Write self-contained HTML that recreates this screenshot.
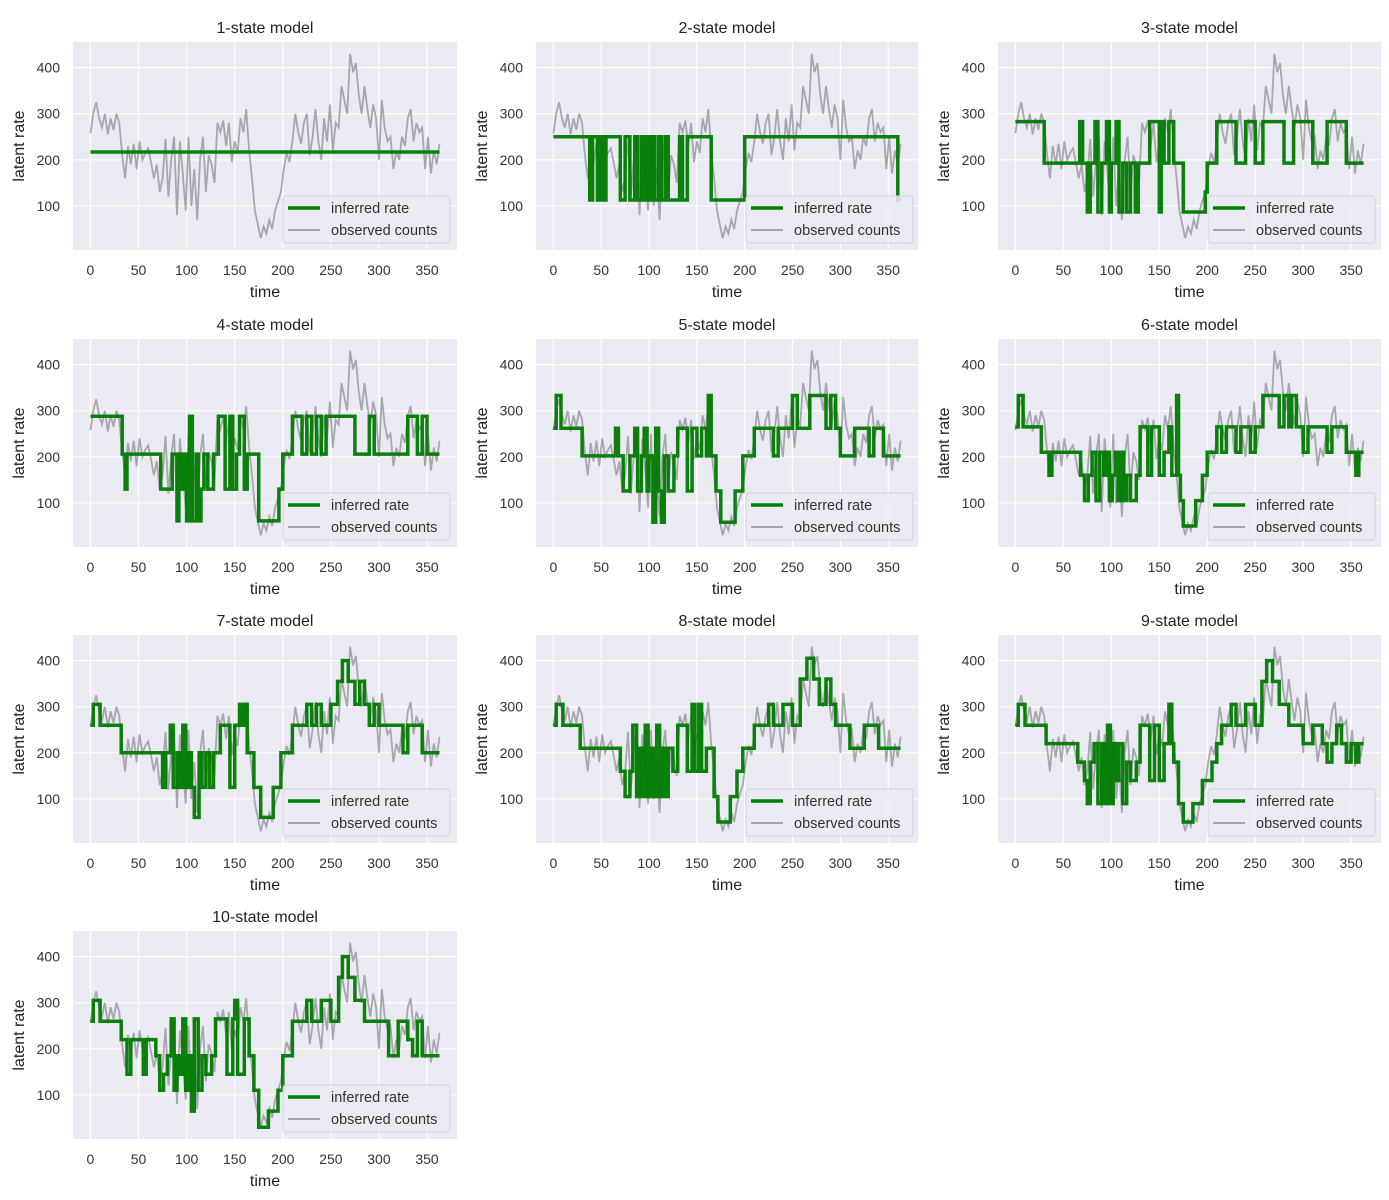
<!DOCTYPE html>
<html><head><meta charset="utf-8"><style>
html,body{margin:0;padding:0;background:#fff;}
svg{display:block;font-family:"Liberation Sans","DejaVu Sans",sans-serif;}
</style></head><body>
<svg id="fig" width="1389" height="1200" viewBox="0 0 1389 1200" xmlns="http://www.w3.org/2000/svg"></svg>
<script>
const observedCounts = [258,300,325,290,270,300,255,290,265,300,280,210,160,230,190,235,180,240,200,215,225,195,160,190,130,160,245,120,200,250,80,240,170,90,250,100,180,70,200,250,130,210,190,150,280,260,285,230,280,195,240,215,290,260,310,220,160,90,60,30,55,40,70,50,90,110,130,180,215,195,240,300,260,235,280,300,210,250,310,240,200,290,240,320,220,280,270,360,330,300,430,390,410,340,300,360,310,270,320,290,200,330,270,240,250,180,220,200,250,230,290,310,240,280,260,270,180,250,170,220,190,235];
const dayStep = 3;
const modelTitles = ["1-state model","2-state model","3-state model","4-state model","5-state model","6-state model","7-state model","8-state model","9-state model","10-state model"];
const xTicks = [0,50,100,150,200,250,300,350];
const yTicks = [100,200,300,400];
const m1 = [[0,217]];
const m2 = [[0,250],[38,113],[41,250],[46,113],[49,250],[52,113],[55,250],[70,113],[75,250],[80,113],[85,250],[88,113],[92,250],[95,113],[98,250],[100,113],[103,250],[106,113],[110,250],[113,113],[117,250],[120,113],[132,250],[135,113],[140,250],[165,113],[200,250],[360,113]];
const m3 = [[0,283],[30,193],[67,283],[70,193],[75,87],[78,193],[83,283],[86,87],[90,193],[95,283],[98,87],[100,193],[105,283],[108,87],[112,193],[116,87],[120,193],[125,87],[128,193],[140,283],[150,87],[152,283],[155,193],[160,283],[165,193],[175,87],[198,130],[200,193],[210,283],[230,193],[240,283],[250,193],[258,283],[280,193],[290,283],[310,193],[325,283],[345,193]];
const m4 = [[0,288],[33,206],[36,130],[38,206],[73,130],[85,206],[90,61],[92,206],[95,130],[98,206],[100,61],[103,288],[106,61],[110,206],[112,61],[115,130],[118,206],[122,130],[128,206],[133,288],[140,130],[145,288],[148,130],[152,206],[155,288],[160,130],[163,206],[175,61],[196,130],[200,206],[210,288],[220,206],[225,288],[230,206],[235,288],[240,206],[245,288],[275,206],[290,288],[295,206],[330,288],[340,206],[345,288],[350,206]];
const m5 = [[0,262],[3,333],[8,262],[30,202],[65,262],[68,202],[73,126],[80,202],[85,262],[88,126],[92,202],[95,262],[98,126],[100,202],[104,58],[107,262],[110,126],[113,58],[116,202],[120,126],[126,202],[130,262],[140,126],[145,262],[150,202],[155,262],[160,202],[162,333],[165,202],[170,126],[175,58],[190,126],[198,202],[210,262],[230,202],[235,262],[250,333],[255,262],[268,333],[285,262],[290,333],[295,262],[300,202],[315,262],[330,202],[335,262],[345,202]];
const m6 = [[0,265],[3,333],[8,265],[27,210],[35,160],[38,210],[68,160],[72,105],[76,160],[80,210],[84,105],[88,210],[92,160],[95,210],[98,105],[101,160],[104,210],[107,105],[110,210],[113,105],[116,160],[120,105],[126,160],[130,265],[138,160],[142,265],[150,160],[155,210],[160,265],[163,160],[168,333],[170,160],[172,105],[175,50],[188,105],[195,160],[200,210],[210,265],[215,210],[220,265],[230,210],[235,265],[245,210],[250,265],[258,333],[275,265],[280,333],[285,265],[288,333],[293,265],[300,210],[305,265],[325,210],[330,265],[345,210],[355,160],[358,210]];
const m7 = [[0,260],[3,305],[10,260],[32,200],[75,125],[78,200],[83,260],[86,125],[90,200],[93,125],[96,260],[99,125],[102,200],[105,125],[108,60],[113,200],[116,125],[120,200],[124,125],[128,200],[135,260],[145,125],[150,260],[155,305],[158,260],[160,305],[163,200],[170,125],[177,60],[190,125],[198,200],[210,260],[225,305],[230,260],[235,305],[240,260],[250,305],[257,355],[262,400],[268,355],[275,305],[280,355],[285,305],[290,260],[295,305],[300,260],[325,200],[330,260],[345,200]];
const m8 = [[0,260],[3,305],[10,260],[28,210],[65,210],[70,160],[75,105],[80,160],[83,260],[87,105],[90,210],[93,105],[96,260],[99,105],[102,210],[105,105],[108,260],[111,105],[114,210],[117,105],[120,210],[125,160],[130,260],[140,160],[145,305],[148,160],[152,305],[155,160],[160,210],[168,105],[172,50],[185,105],[192,160],[198,210],[210,260],[225,305],[230,260],[240,305],[250,260],[258,360],[265,405],[272,360],[278,305],[285,360],[290,305],[295,260],[305,260],[310,210],[325,260],[340,210]];
const m9 = [[0,260],[3,305],[10,260],[32,220],[60,220],[65,180],[72,140],[75,90],[78,180],[82,220],[86,90],[90,220],[93,90],[96,260],[99,90],[102,220],[105,140],[108,220],[112,90],[116,180],[120,140],[126,180],[130,260],[140,140],[145,260],[150,140],[155,220],[160,305],[163,220],[165,180],[170,90],[175,50],[185,90],[195,140],[205,180],[210,220],[215,260],[225,305],[230,260],[240,305],[250,260],[257,355],[262,400],[268,355],[275,305],[285,260],[300,220],[310,260],[320,220],[325,180],[330,220],[335,260],[340,220],[345,180],[350,220],[355,180],[358,220]];
const m10 = [[0,260],[3,305],[10,260],[32,220],[38,145],[42,220],[55,145],[58,220],[68,185],[72,110],[76,145],[80,185],[84,265],[87,110],[90,185],[93,145],[96,265],[99,110],[102,185],[105,65],[108,265],[112,110],[116,185],[120,145],[126,185],[130,265],[142,145],[148,265],[150,305],[153,145],[160,265],[165,185],[170,110],[175,30],[185,65],[195,110],[200,185],[210,260],[225,305],[230,260],[240,305],[250,260],[258,355],[262,400],[268,355],[275,305],[285,260],[300,260],[310,185],[320,260],[330,220],[335,185],[340,260],[345,185],[360,185]];
const models = [m1,m2,m3,m4,m5,m6,m7,m8,m9,m10];

const NS = "http://www.w3.org/2000/svg";
const svg = document.getElementById('fig');
const colX = [73,536,998], colW = [384,382,383];
const rowY = [42,339,635,931], H = 208;
const XMIN = -18.15, XMAX = 381.15, YMIN = 4.5, YMAX = 455.5;
const lastDay = (observedCounts.length - 1) * dayStep;
function mk(tag, attrs, parent){ const e = document.createElementNS(NS, tag); for (const k in attrs) e.setAttribute(k, attrs[k]); (parent||svg).appendChild(e); return e; }

models.forEach((segs, i) => {
  const c = i % 3, r = Math.floor(i / 3);
  const x0 = colX[c], w = colW[c], y0 = rowY[r];
  const sx = d => x0 + (d - XMIN) / (XMAX - XMIN) * w;
  const sy = v => y0 + H - (v - YMIN) / (YMAX - YMIN) * H;
  const g = mk('g', {});
  
  
  const bg = mk('rect', {x:x0, y:y0, width:w, height:H, fill:'#eaeaf2'}, g);
  
  
  xTicks.forEach(t => {
    const gl = mk('line', {x1:sx(t), x2:sx(t), y1:y0, y2:y0+H, stroke:'#fff', 'stroke-width':1.2}, g);
    
    
    const tl = mk('text', {x:sx(t), y:y0+H+25, 'text-anchor':'middle', 'font-size':14, fill:'#333'}, g);
    tl.textContent = t;
    
    
  });
  yTicks.forEach(t => {
    const gl = mk('line', {x1:x0, x2:x0+w, y1:sy(t), y2:sy(t), stroke:'#fff', 'stroke-width':1.2}, g);
    
    
    const tl = mk('text', {x:x0-13, y:sy(t)+5, 'text-anchor':'end', 'font-size':14, fill:'#333'}, g);
    tl.textContent = t;
    
    
  });
  // observed
  let d = observedCounts.map((v, k) => (k ? 'L' : 'M') + sx(k*dayStep).toFixed(1) + ' ' + sy(v).toFixed(1)).join(' ');
  const obs = mk('path', {d:d, fill:'none', stroke:'#9a9aa0', 'stroke-width':1.8, opacity:0.85}, g);
  
  
  // inferred steps
  let p = '';
  segs.forEach((s, k) => {
    const end = k < segs.length - 1 ? segs[k+1][0] : lastDay;
    p += (k ? 'L' : 'M') + sx(s[0]).toFixed(1) + ' ' + sy(s[1]).toFixed(1) + ' L' + sx(end).toFixed(1) + ' ' + sy(s[1]).toFixed(1) + ' ';
  });
  const inf = mk('path', {d:p, fill:'none', stroke:'#007a00', 'stroke-width':3.5, 'stroke-linejoin':'miter', opacity:0.95}, g);
  
  
  // title
  const tt = mk('text', {x:x0+w/2, y:y0-9, 'text-anchor':'middle', 'font-size':16, fill:'#222'}, g);
  tt.textContent = modelTitles[i];
  
  
  const xl = mk('text', {x:x0+w/2, y:y0+H+47, 'text-anchor':'middle', 'font-size':16, fill:'#222'}, g);
  xl.textContent = 'time';
  
  
  const yx = x0 - 49, yy = y0 + H/2;
  const yl = mk('text', {x:yx, y:yy, 'text-anchor':'middle', 'font-size':16, fill:'#222', transform:'rotate(-90 '+yx+' '+yy+')'}, g);
  yl.textContent = 'latent rate';
  
  
  // legend
  const lx = x0 + 210, ly = y0 + 154;
  const lg = mk('g', {}, g);
  
  
  mk('rect', {x:lx, y:ly, width:167, height:47, rx:3, fill:'#eaeaf2', 'fill-opacity':0.85, stroke:'#d0d0d8'}, lg);
  mk('line', {x1:lx+5, x2:lx+37, y1:ly+12, y2:ly+12, stroke:'#008000', 'stroke-width':3.5}, lg);
  mk('line', {x1:lx+5, x2:lx+37, y1:ly+34, y2:ly+34, stroke:'#9a9aa0', 'stroke-width':1.8}, lg);
  const t1 = mk('text', {x:lx+48, y:ly+17, 'font-size':14.5, fill:'#333'}, lg);
  t1.textContent = 'inferred rate';
  
  
  const t2 = mk('text', {x:lx+48, y:ly+39, 'font-size':14.5, fill:'#333'}, lg);
  t2.textContent = 'observed counts';
  
  
});
</script>
</body></html>
